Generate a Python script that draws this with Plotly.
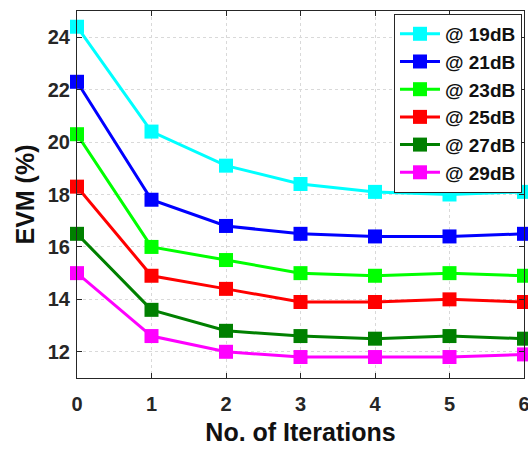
import plotly.graph_objects as go

iterations = [0, 1, 2, 3, 4, 5, 6]
series_names = ["@ 19dB", "@ 21dB", "@ 23dB", "@ 25dB", "@ 27dB", "@ 29dB"]
evm_19 = [24.4, 20.4, 19.1, 18.4, 18.1, 18.0, 18.1]
evm_21 = [22.3, 17.8, 16.8, 16.5, 16.4, 16.4, 16.5]
evm_23 = [20.3, 16.0, 15.5, 15.0, 14.9, 15.0, 14.9]
evm_25 = [18.3, 14.9, 14.4, 13.9, 13.9, 14.0, 13.9]
evm_27 = [16.5, 13.6, 12.8, 12.6, 12.5, 12.6, 12.5]
evm_29 = [15.0, 12.6, 12.0, 11.8, 11.8, 11.8, 11.9]
series_values = [evm_19, evm_21, evm_23, evm_25, evm_27, evm_29]
series_colors = ["#00FFFF", "#0000FF", "#00FF00", "#FF0000", "#008000", "#FF00FF"]
x_ticks = [0, 1, 2, 3, 4, 5, 6]
y_ticks = [12, 14, 16, 18, 20, 22, 24]

FONT = "Liberation Sans, Arial, sans-serif"
AX = "#262626"

fig = go.Figure()
for name, vals, col in zip(series_names, series_values, series_colors):
    fig.add_trace(go.Scatter(
        x=iterations, y=vals, name=name, mode="lines+markers",
        line=dict(color=col, width=3),
        marker=dict(symbol="square", size=14, color=col),
        cliponaxis=False, legendgroup=name,
    ))

axis_common = dict(
    showline=True, linecolor=AX, linewidth=1, mirror="ticks",
    ticks="inside", ticklen=5, tickcolor=AX,
    showgrid=True, gridcolor="#d9d9d9", griddash="dot", gridwidth=1,
    zeroline=False, ticklabeloverflow="allow", automargin=False,
    tickfont=dict(family=FONT, size=20, color=AX, weight="bold"),
)

fig.update_xaxes(
    range=[0, 6], tickvals=x_ticks, ticklabelstandoff=8,
    title=dict(text="No. of Iterations", standoff=9,
               font=dict(family=FONT, size=25, color="#111111", weight="bold")),
    **axis_common,
)
fig.update_yaxes(
    range=[11, 25], tickvals=y_ticks, ticklabelstandoff=2,
    title=dict(text="EVM (%)", standoff=6,
               font=dict(family=FONT, size=25, color="#111111", weight="bold")),
    **axis_common,
)

fig.update_layout(
    width=528, height=449,
    margin=dict(l=77, r=4, t=11, b=71),
    paper_bgcolor="white", plot_bgcolor="white",
    legend=dict(
        x=0.9955, y=0.992, xanchor="right", yanchor="top",
        bgcolor="white", bordercolor=AX, borderwidth=1,
        font=dict(family=FONT, size=19, color="#111111", weight="bold"),
        itemwidth=40, tracegroupgap=0,
    ),
    showlegend=True,
)

fig.write_html("out.html")
